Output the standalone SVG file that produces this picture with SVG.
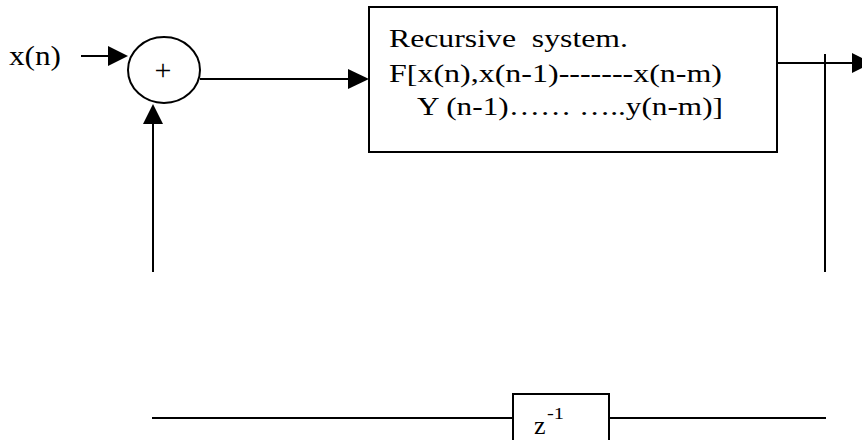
<svg xmlns="http://www.w3.org/2000/svg" width="862" height="440" viewBox="0 0 862 440">
  <style>
    .wire { stroke: #000; stroke-width: 2; fill: none; }
    .head { fill: #000; stroke: none; }
    .box { fill: #fff; stroke: #000; stroke-width: 2; }
    .lbl { font-family: "Liberation Serif", "Times New Roman", serif; fill: #000; white-space: pre; }
  </style>
  <rect width="862" height="440" fill="#fff"/>

  <!-- connectors -->
  <g id="connectors">
    <!-- input x(n) into adder -->
    <line class="wire" x1="81" y1="56" x2="112" y2="56"/>
    <polygon class="head" points="128,56 108,46 108,66"/>
    <!-- adder to recursive system -->
    <line class="wire" x1="200" y1="79" x2="352" y2="79"/>
    <polygon class="head" points="369,79 348,69 348,89"/>
    <!-- output -->
    <line class="wire" x1="777" y1="63" x2="856" y2="63"/>
    <polygon class="head" points="872,63 852,53 852,73"/>
    <!-- feedback path -->
    <line class="wire" x1="825" y1="54" x2="825" y2="272"/>
    <line class="wire" x1="152" y1="418" x2="513" y2="418"/>
    <line class="wire" x1="609" y1="418" x2="826" y2="418"/>
    <line class="wire" x1="153" y1="272" x2="153" y2="120"/>
    <polygon class="head" points="153,104 143,124 163,124"/>
  </g>

  <!-- input label -->
  <g id="input">
    <text class="lbl" x="9" y="65" font-size="27" textLength="52" lengthAdjust="spacingAndGlyphs">x(n)</text>
  </g>

  <!-- adder -->
  <g id="adder">
    <ellipse cx="164" cy="70" rx="36" ry="33" fill="#fff" stroke="#000" stroke-width="2"/>
    <text class="lbl" x="163" y="80" font-size="30" text-anchor="middle">+</text>
  </g>

  <!-- recursive system block -->
  <g id="system">
    <rect class="box" x="369" y="7" width="408" height="145"/>
    <text class="lbl" x="389" y="47" font-size="26" textLength="239" lengthAdjust="spacingAndGlyphs">Recursive  system.</text>
    <text class="lbl" x="389" y="82" font-size="26" textLength="333" lengthAdjust="spacingAndGlyphs">F[x(n),x(n-1)-------x(n-m)</text>
    <text class="lbl" x="417" y="115" font-size="26" textLength="306" lengthAdjust="spacingAndGlyphs">Y (n-1)…… …..y(n-m)]</text>
  </g>

  <!-- unit delay -->
  <g id="delay">
    <rect class="box" x="513" y="394" width="96" height="60"/>
    <text class="lbl" x="534" y="434" font-size="26">z</text>
    <text class="lbl" x="547" y="419" font-size="16" textLength="17" lengthAdjust="spacingAndGlyphs">-1</text>
  </g>
</svg>
